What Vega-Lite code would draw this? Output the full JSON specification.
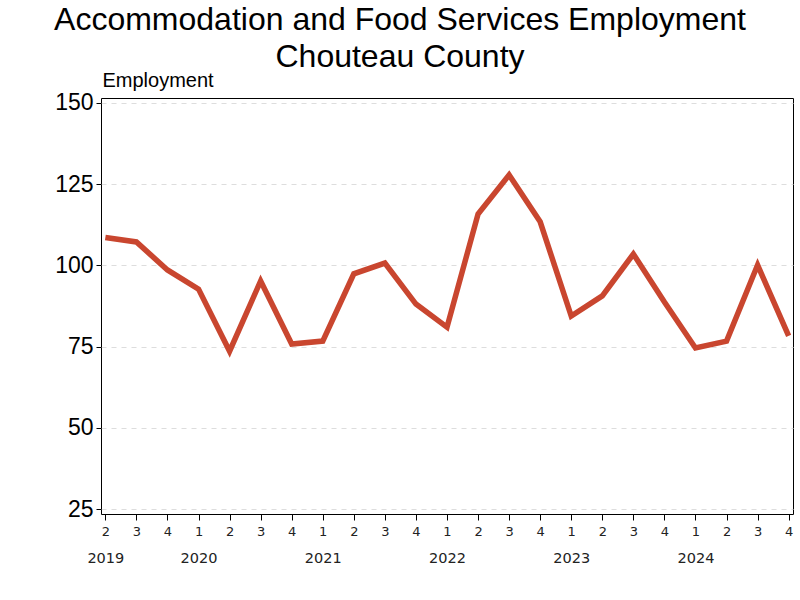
{
  "$schema": "https://vega.github.io/schema/vega-lite/v6.json",
  "width": 692,
  "height": 416,
  "autosize": {"type": "none"},
  "padding": {"left": 101, "top": 98, "right": 7, "bottom": 86},
  "background": "white",
  "title": {
    "text": ["Accommodation and Food Services Employment", "Chouteau County"],
    "font": "Liberation Sans",
    "fontSize": 32,
    "fontWeight": "normal",
    "color": "black",
    "anchor": "middle",
    "dx": -47,
    "lineHeight": 37,
    "offset": -4
  },
  "config": {
    "view": {"stroke": "black", "strokeWidth": 1},
    "font": "Liberation Sans"
  },
  "data": {
    "values": [
      {"period": "2019 Q2", "employment": 108.6},
      {"period": "2019 Q3", "employment": 107.2},
      {"period": "2019 Q4", "employment": 98.6},
      {"period": "2020 Q1", "employment": 92.7},
      {"period": "2020 Q2", "employment": 73.6},
      {"period": "2020 Q3", "employment": 95.2},
      {"period": "2020 Q4", "employment": 75.8},
      {"period": "2021 Q1", "employment": 76.7},
      {"period": "2021 Q2", "employment": 97.4},
      {"period": "2021 Q3", "employment": 100.7},
      {"period": "2021 Q4", "employment": 88.1},
      {"period": "2022 Q1", "employment": 81.0},
      {"period": "2022 Q2", "employment": 115.8},
      {"period": "2022 Q3", "employment": 127.8},
      {"period": "2022 Q4", "employment": 113.4},
      {"period": "2023 Q1", "employment": 84.4},
      {"period": "2023 Q2", "employment": 90.6},
      {"period": "2023 Q3", "employment": 103.5},
      {"period": "2023 Q4", "employment": 88.7},
      {"period": "2024 Q1", "employment": 74.6},
      {"period": "2024 Q2", "employment": 76.7},
      {"period": "2024 Q3", "employment": 100.1},
      {"period": "2024 Q4", "employment": 78.3}
    ]
  },
  "encoding": {
    "y": {
      "field": "employment",
      "type": "quantitative",
      "scale": {"domain": [23.5, 151.5], "nice": false, "zero": false},
      "axis": {
        "values": [25, 50, 75, 100, 125, 150],
        "title": "Employment",
        "titleAngle": 0,
        "titleAlign": "left",
        "titleBaseline": "alphabetic",
        "titleX": 1,
        "titleY": -12,
        "titleFont": "Liberation Sans",
        "titleFontSize": 20,
        "titleFontWeight": "normal",
        "titleColor": "black",
        "domain": false,
        "tickColor": "black",
        "tickSize": 5,
        "labelFont": "Liberation Sans",
        "labelFontSize": 23,
        "labelColor": "black",
        "labelPadding": 3,
        "grid": true,
        "gridColor": "#dddddd",
        "gridDash": [5, 5],
        "gridWidth": 1
      }
    }
  },
  "layer": [
    {
      "mark": {"type": "line", "color": "#C9462F", "strokeWidth": 5.5, "strokeJoin": "miter"},
      "encoding": {
        "x": {
          "field": "period",
          "type": "ordinal",
          "sort": null,
          "scale": {"type": "point", "padding": 0.14},
          "axis": {
            "title": null,
            "orient": "bottom",
            "grid": false,
            "domain": false,
            "tickColor": "black",
            "tickSize": 6,
            "labelAngle": 0,
            "labelFont": "DejaVu Sans",
            "labelFontSize": 13,
            "labelColor": "#222",
            "labelPadding": 5,
            "labelBaseline": "top",
            "labelExpr": "substring(datum.value, 6, 7)"
          }
        }
      }
    },
    {
      "mark": {"type": "line", "strokeOpacity": 0},
      "encoding": {
        "x": {
          "field": "period",
          "type": "ordinal",
          "sort": null,
          "scale": {"type": "point", "padding": 0.14},
          "axis": {
            "title": null,
            "orient": "bottom",
            "grid": false,
            "domain": false,
            "ticks": false,
            "labelAngle": 0,
            "labelFont": "DejaVu Sans",
            "labelFontSize": 14.5,
            "labelColor": "#222",
            "labelPadding": 37,
            "labelBaseline": "top",
            "labelExpr": "(datum.value === '2019 Q2' || indexof(datum.value, 'Q1') >= 0) ? substring(datum.value, 0, 4) : ''"
          }
        }
      }
    }
  ],
  "resolve": {"axis": {"x": "independent"}}
}
